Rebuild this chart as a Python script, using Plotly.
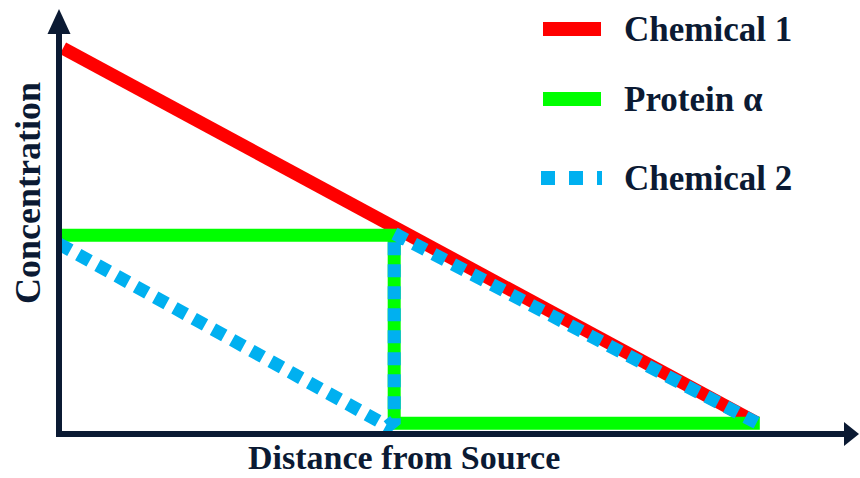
import plotly.graph_objects as go

W, H = 860, 478

# ---- data (concentration vs distance, arbitrary units) ----
chem1_x = [0.05, 8.72]
chem1_y = [8.89, 0.26]

protein_x = [0.0, 4.19, 4.19, 8.76]
protein_y = [4.58, 4.58, 0.25, 0.25]

chem2_x = [0.0, 4.11, 4.19, 4.19, 8.72]
chem2_y = [4.38, 0.18, 0.30, 4.62, 0.26]

legend_names = ["Chemical 1", "Protein α", "Chemical 2"]
x_title = "Distance from Source"
y_title = "Concentration"

RED = "#ff0000"
GREEN = "#00ff00"
BLUE = "#00b0f0"
INK = "#0b1a33"
FONT = "Liberation Serif"

fig = go.Figure()
fig.add_trace(go.Scatter(x=chem1_x, y=chem1_y, mode="lines", name=legend_names[0],
                         line=dict(color=RED, width=13)))
fig.add_trace(go.Scatter(x=protein_x, y=protein_y, mode="lines", name=legend_names[1],
                         line=dict(color=GREEN, width=13)))
fig.add_trace(go.Scatter(x=chem2_x, y=chem2_y, mode="lines", name=legend_names[2],
                         line=dict(color=BLUE, width=13, dash="13px,9px")))

# pixel helpers (margins are zero, so paper == pixel frame)
def px(x):
    return x / W

def py(y):
    return 1 - y / H

shapes = []
# y axis line + arrow
shapes.append(dict(type="line", xref="paper", yref="paper", x0=px(59), x1=px(59),
                   y0=py(437), y1=py(30), line=dict(color=INK, width=6)))
shapes.append(dict(type="path", xref="paper", yref="paper",
                   path=f"M {px(59)},{py(9)} L {px(47.5)},{py(34)} L {px(70.5)},{py(34)} Z",
                   fillcolor=INK, line=dict(color=INK, width=0)))
# x axis line + arrow
shapes.append(dict(type="line", xref="paper", yref="paper", x0=px(56), x1=px(848),
                   y0=py(434), y1=py(434), line=dict(color=INK, width=6)))
shapes.append(dict(type="path", xref="paper", yref="paper",
                   path=f"M {px(859)},{py(434)} L {px(844)},{py(422)} L {px(844)},{py(446)} Z",
                   fillcolor=INK, line=dict(color=INK, width=0)))

# legend samples
leg_y = [29, 99, 178]
shapes.append(dict(type="line", xref="paper", yref="paper", x0=px(543), x1=px(601),
                   y0=py(leg_y[0]), y1=py(leg_y[0]), line=dict(color=RED, width=14)))
shapes.append(dict(type="line", xref="paper", yref="paper", x0=px(543), x1=px(601),
                   y0=py(leg_y[1]), y1=py(leg_y[1]), line=dict(color=GREEN, width=14)))
shapes.append(dict(type="line", xref="paper", yref="paper", x0=px(541), x1=px(602),
                   y0=py(leg_y[2]), y1=py(leg_y[2]),
                   line=dict(color=BLUE, width=14, dash="14px,14px")))

annotations = []
for name, yy in zip(legend_names, leg_y):
    annotations.append(dict(text=f"<b>{name}</b>", xref="paper", yref="paper",
                            x=px(622), y=py(yy), xanchor="left", yanchor="middle",
                            showarrow=False, font=dict(family=FONT, size=35, color=INK)))
annotations.append(dict(text=f"<b>{x_title}</b>", xref="paper", yref="paper",
                        x=px(404), y=0, xanchor="center", yanchor="bottom",
                        showarrow=False, font=dict(family=FONT, size=34, color=INK)))
annotations.append(dict(text=f"<b>{y_title}</b>", xref="paper", yref="paper",
                        x=px(28), y=py(193), xanchor="center", yanchor="middle",
                        textangle=-90, showarrow=False,
                        font=dict(family=FONT, size=36, color=INK)))

x_unit = 80.0
y_unit = 43.4
fig.update_layout(
    width=W, height=H,
    margin=dict(l=0, r=0, t=0, b=0),
    paper_bgcolor="white", plot_bgcolor="white",
    showlegend=False,
    xaxis=dict(visible=False, range=[-59 / x_unit, (W - 59) / x_unit], fixedrange=True),
    yaxis=dict(visible=False, range=[-(H - 434) / y_unit, 434 / y_unit], fixedrange=True),
    shapes=shapes,
    annotations=annotations,
)

fig.write_html("out.html", config={"displayModeBar": False},
               post_script="document.body.style.margin='0';document.body.style.overflow='hidden';")
